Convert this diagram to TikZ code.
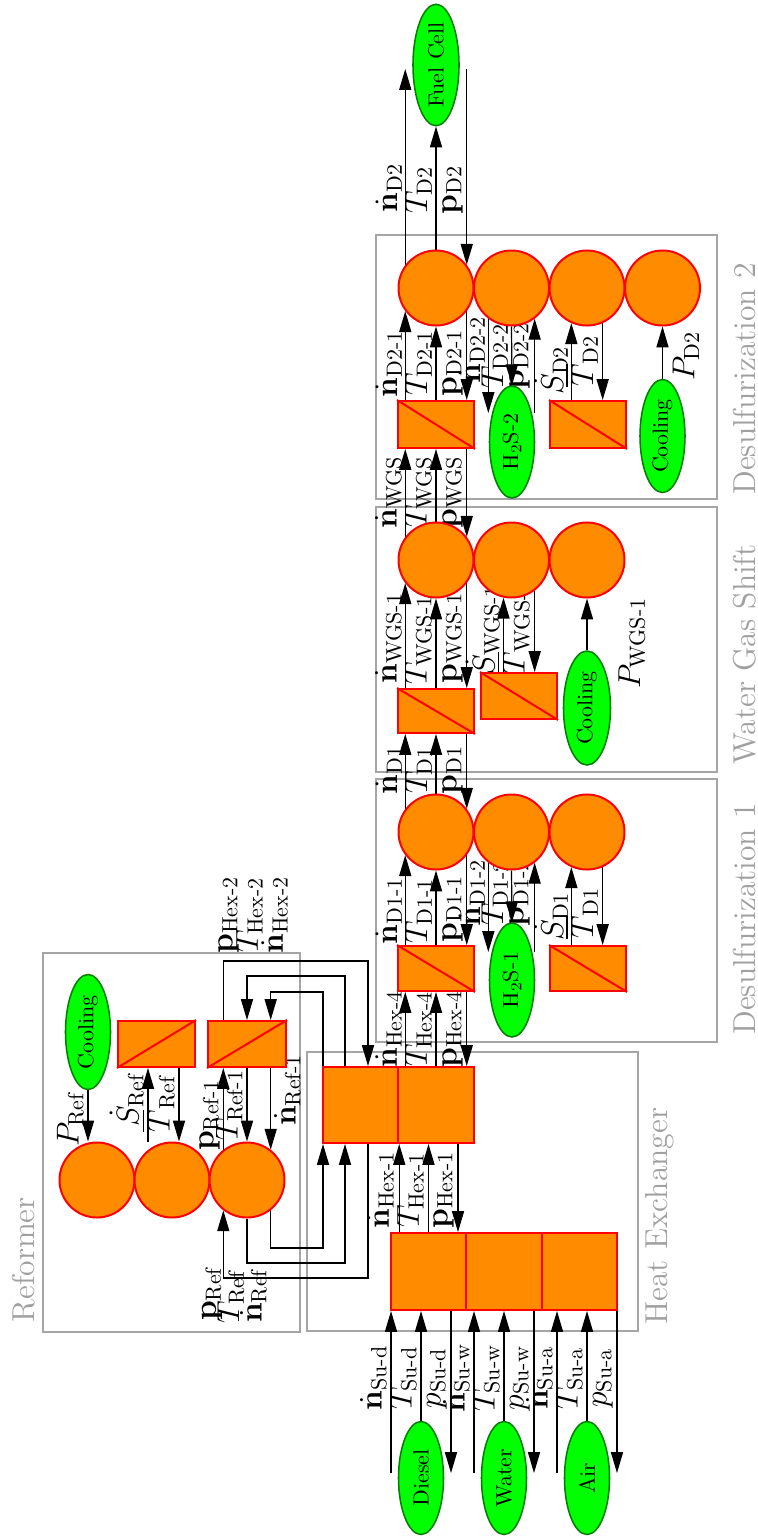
\documentclass[tikz,border=0pt]{standalone}
\usepackage{amsmath}
\usetikzlibrary{shapes.geometric,arrows.meta,calc}
\definecolor{myorange}{RGB}{255,140,0}
\definecolor{mygreen}{RGB}{0,255,0}
\definecolor{mydkgreen}{RGB}{0,128,0}
\definecolor{framegray}{RGB}{165,165,165}
\definecolor{titlegray}{RGB}{160,160,160}
\newcommand{\pxl}{0.4545pt}
\pgfdeclarelayer{back}
\pgfdeclarelayer{mid}
\pgfsetlayers{back,mid,main}
\tikzset{
  obox/.style={rectangle, draw=red, fill=myorange, line width=0.9pt, inner sep=0pt},
  circ/.style={circle, draw=red, fill=myorange, line width=0.9pt, inner sep=0pt, minimum size=75*\pxl},
  ell/.style={ellipse, draw=mydkgreen, fill=mygreen, line width=0.7pt, inner sep=0pt, rotate=90, minimum width=113*\pxl, minimum height=45*\pxl},
  diag/.style={draw=red, line width=0.9pt},
  frame/.style={draw=framegray, line width=0.6pt},
  arr/.style={-{Triangle[length=9.5pt,width=5.5pt]}, line width=0.55pt},
  lbl/.style={rotate=90, font=\Large, inner sep=1pt, anchor=south},
  lbr/.style={rotate=90, font=\Large, inner sep=1pt, anchor=north},
  ttl/.style={rotate=90, font=\Large, text=titlegray, inner sep=0pt, anchor=base west},
}
\begin{document}
\begin{tikzpicture}[x=0.4545pt, y=-0.4545pt]
\useasboundingbox (0,0) rectangle (758,1538);
\begin{pgfonlayer}{back}
\fill[white] (0,0) rectangle (758,1538);
\draw[frame] (43,953) rectangle (300,1332);
\draw[frame] (307,1052) rectangle (638,1331);
\draw[frame] (376,779) rectangle (717,1042);
\draw[frame] (376,507) rectangle (717,772);
\draw[frame] (376,235) rectangle (717,499);
\end{pgfonlayer}
\node[ttl] (tRef) at (35,1323) {Reformer};
\node[ttl] (tHex) at (667,1325) {Heat Exchanger};
\node[ttl] (tD1) at (755,1035) {Desulfurization 1};
\node[ttl] (tWGS) at (755,765) {Water Gas Shift};
\node[ttl] (tD2) at (755,495) {Desulfurization 2};

% ---------- nodes ----------
% sources
\node[ell] (diesel) at (421,1478) {Diesel};
\node[ell] (water) at (504,1478) {Water};
\node[ell] (air) at (587,1478) {Air};
% heat exchanger
\node[obox, minimum width=75.5*\pxl, minimum height=77*\pxl] (hl1) at (428.5,1271.5) {};
\node[obox, minimum width=75.5*\pxl, minimum height=77*\pxl] (hl2) at (504,1271.5) {};
\node[obox, minimum width=75.5*\pxl, minimum height=77*\pxl] (hl3) at (579.5,1271.5) {};
\node[obox, minimum width=75.5*\pxl, minimum height=76*\pxl] (hu1) at (360.5,1105) {};
\node[obox, minimum width=75.5*\pxl, minimum height=76*\pxl] (hu2) at (436,1105) {};
% reformer
\node[circ] (rc1) at (97,1180) {};
\node[circ] (rc2) at (172,1180) {};
\node[circ] (rc3) at (247,1180) {};
\node[ell, minimum width=115*\pxl] (rcool) at (88,1032) {Cooling};
\node[obox, minimum width=77*\pxl, minimum height=46*\pxl] (rb1) at (156.5,1044) {};
\node[obox, minimum width=78*\pxl, minimum height=46*\pxl] (rb2) at (247,1044) {};
\draw[diag] (rb1.south west) -- (rb1.north east);
\draw[diag] (rb2.south west) -- (rb2.north east);
% desulfurization 1
\node[circ] (d1c1) at (436,832) {};
\node[circ] (d1c2) at (511.5,832) {};
\node[circ] (d1c3) at (587,832) {};
\node[obox, minimum width=76*\pxl, minimum height=45*\pxl] (d1b1) at (436,968.5) {};
\node[obox, minimum width=76*\pxl, minimum height=45*\pxl] (d1b2) at (588,968.5) {};
\draw[diag] (d1b1.north west) -- (d1b1.south east);
\draw[diag] (d1b2.north west) -- (d1b2.south east);
\node[ell, minimum width=114*\pxl] (h2s1) at (512,980) {H$_2$S-1};
% water gas shift
\node[circ] (wc1) at (436,560) {};
\node[circ] (wc2) at (511.5,560) {};
\node[circ] (wc3) at (587,560) {};
\node[obox, minimum width=76*\pxl, minimum height=44*\pxl] (wb1) at (436,711) {};
\node[obox, minimum width=76*\pxl, minimum height=46*\pxl] (wb2) at (519,696) {};
\draw[diag] (wb1.north west) -- (wb1.south east);
\draw[diag] (wb2.north west) -- (wb2.south east);
\node[ell, minimum width=114*\pxl, minimum height=47*\pxl] (wcool) at (587,708) {Cooling};
% desulfurization 2
\node[circ] (d2c1) at (436,288) {};
\node[circ] (d2c2) at (511.5,288) {};
\node[circ] (d2c3) at (587,288) {};
\node[circ] (d2c4) at (662.5,288) {};
\node[obox, minimum width=76*\pxl, minimum height=47*\pxl] (d2b1) at (436,424.5) {};
\node[obox, minimum width=76*\pxl, minimum height=47*\pxl] (d2b2) at (588,424.5) {};
\draw[diag] (d2b1.north west) -- (d2b1.south east);
\draw[diag] (d2b2.north west) -- (d2b2.south east);
\node[ell, minimum width=112*\pxl] (h2s2) at (512,442) {H$_2$S-2};
\node[ell] (d2cool) at (662.5,436) {Cooling};
% fuel cell
\node[ell, minimum width=116*\pxl, minimum height=46*\pxl] (fc) at (436,65) {Fuel Cell};

% ---------- helper coordinates ----------
\coordinate (ysrc) at (0,1473);
\coordinate (s1) at (391,0);
\coordinate (s3) at (451,0);
\coordinate (s4) at (474,0);
\coordinate (s6) at (534,0);
\coordinate (s7) at (557,0);
\coordinate (s9) at (617,0);
\coordinate (ch3) at (458,0);
\coordinate (cr2) at (148,0);
\coordinate (cr3) at (179,0);
\coordinate (l1) at (323,0);
\coordinate (l2) at (345,0);
\coordinate (l3) at (368,0);
\coordinate (yb1) at (0,1248);
\coordinate (yb2) at (0,1263);
\coordinate (yb3) at (0,1278);
\coordinate (yt1) at (0,961);
\coordinate (yt2) at (0,976);
\coordinate (yt3) at (0,992);
\coordinate (ylow1) at (0,952);
\coordinate (ylow2) at (0,413);
\coordinate (yfc) at (0,69);

\begin{pgfonlayer}{mid}
% sources -> heat exchanger
\draw[arr] (s1 |- ysrc) -- (s1 |- hl1.south);
\draw[arr] (diesel.east) -- (diesel.east |- hl1.south);
\draw[arr] (s3 |- hl1.south) -- (s3 |- ysrc);
\draw[arr] (s4 |- ysrc) -- (s4 |- hl2.south);
\draw[arr] (water.east) -- (water.east |- hl2.south);
\draw[arr] (s6 |- hl2.south) -- (s6 |- ysrc);
\draw[arr] (s7 |- ysrc) -- (s7 |- hl3.south);
\draw[arr] (air.east) -- (air.east |- hl3.south);
\draw[arr] (s9 |- hl3.south) -- (s9 |- ysrc);
\node[lbl] (lnSd) at (389.5,1378) {$\dot{\mathbf{n}}_{\text{Su-d}}$};
\node[lbl] (lTSd) at (419.5,1378) {$T_{\text{Su-d}}$};
\node[lbl] (lpSd) at (449.5,1378) {$p_{\text{Su-d}}$};
\node[lbl] (lnSw) at (472.5,1378) {$\dot{\mathbf{n}}_{\text{Su-w}}$};
\node[lbl] (lTSw) at (502.5,1378) {$T_{\text{Su-w}}$};
\node[lbl] (lpSw) at (532.5,1378) {$p_{\text{Su-w}}$};
\node[lbl] (lnSa) at (555.5,1378) {$\dot{\mathbf{n}}_{\text{Su-a}}$};
\node[lbl] (lTSa) at (585.5,1378) {$T_{\text{Su-a}}$};
\node[lbl] (lpSa) at (615.5,1378) {$p_{\text{Su-a}}$};
% hex lower -> hex upper
\draw[arr] (hu1.south east |- hl1.north) -- (hu1.south east);
\draw[arr] (hl1.north) -- (hl1.north |- hu2.south);
\draw[arr] (ch3 |- hu2.south) -- (ch3 |- hl1.north);
\node[lbl] (lnH1) at (396.5,1190) {$\dot{\mathbf{n}}_{\text{Hex-1}}$};
\node[lbl] (lTH1) at (426.5,1190) {$T_{\text{Hex-1}}$};
\node[lbl] (lpH1) at (456.5,1190) {$\mathbf{p}_{\text{Hex-1}}$};
% reformer <-> hex (bottom loops)
\draw[arr] (rc3.308) -- (rc3.308 |- yb1) -- (l1 |- yb1) -- (l1 |- hu1.south);
\draw[arr] (rc3.south) -- (rc3.south |- yb2) -- (l2 |- yb2) -- (l2 |- hu1.south);
\draw[arr] (l3 |- hu1.south) -- (l3 |- yb3) -- (rc3.232 |- yb3) -- (rc3.232);
\node[lbl] (lpR) at (225,1294) {$\mathbf{p}_{\text{Ref}}$};
\node[lbl] (lTR) at (247,1297) {$T_{\text{Ref}}$};
\node[lbl] (lnR) at (269.5,1296) {$\dot{\mathbf{n}}_{\text{Ref}}$};
% reformer <-> hex (top loops)
\draw[arr] (rc3.128 |- rb2.north) -- (rc3.128 |- yt1) -- (l3 |- yt1) -- (l3 |- hu1.north);
\draw[arr] (l2 |- hu1.north) -- (l2 |- yt2) -- (rb2.north |- yt2) -- (rb2.north);
\draw[arr] (l1 |- hu1.north) -- (l1 |- yt3) -- (rc3.52 |- yt3) -- (rc3.52 |- rb2.north);
\node[lbl] (lpH2) at (241.5,915) {$\mathbf{p}_{\text{Hex-2}}$};
\node[lbl] (lTH2) at (265.5,915) {$T_{\text{Hex-2}}$};
\node[lbl] (lnH2) at (290.5,915) {$\dot{\mathbf{n}}_{\text{Hex-2}}$};
% reformer internal
\draw[arr] (rcool.west) -- (rcool.west |- rc1.north);
\node[lbl] (lPR) at (86.5,1120) {$P_{\text{Ref}}$};
\draw[arr] (cr2 |- rc2.north) -- (cr2 |- rb1.south);
\draw[arr] (cr3 |- rb1.south) -- (cr3 |- rc2.north);
\node[lbl] (lSR) at (146.5,1100) {$\dot{S}_{\text{Ref}}$};
\node[lbl] (lTbR) at (177.5,1104) {$\overline{T}_{\text{Ref}}$};
\draw[arr] (rc3.128) -- (rc3.128 |- rb2.south);
\draw[arr] (rb2.south) -- (rc3.north);
\draw[arr] (rc3.52 |- rb2.south) -- (rc3.52);
\node[lbl] (lpR1) at (222.5,1115) {$\mathbf{p}_{\text{Ref-1}}$};
\node[lbl] (lTR1) at (245.5,1105) {$T_{\text{Ref-1}}$};
\node[lbr] (lnR1) at (271.5,1090) {$\dot{\mathbf{n}}_{\text{Ref-1}}$};
% hex -> desulfurization 1
\draw[arr] (d1c1.217 |- hu2.north) -- (d1c1.217 |- d1b1.south);
\draw[arr] (hu2.north) -- (d1b1.south);
\draw[arr] (d1c1.323 |- d1b1.south) -- (d1c1.323 |- hu2.north);
\node[lbl] (lnH4) at (404.5,1029) {$\dot{\mathbf{n}}_{\text{Hex-4}}$};
\node[lbl] (lTH4) at (434.5,1029) {$T_{\text{Hex-4}}$};
\node[lbl] (lpH4) at (465.5,1029) {$\mathbf{p}_{\text{Hex-4}}$};
% desulfurization 1 internal
\draw[arr] (d1c1.217 |- d1b1.north) -- (d1c1.217);
\draw[arr] (d1b1.north) -- (d1c1.south);
\draw[arr] (d1c1.323) -- (d1c1.323 |- d1b1.north);
\node[lbl] (lnD11) at (404.5,911) {$\dot{\mathbf{n}}_{\text{D1-1}}$};
\node[lbl] (lTD11) at (434.5,911) {$T_{\text{D1-1}}$};
\node[lbl] (lpD11) at (465.5,909) {$\mathbf{p}_{\text{D1-1}}$};
\draw[arr] (d1c2.233) -- (d1c2.233 |- ylow1);
\draw[arr] (d1c2.south) -- (h2s1.east);
\draw[arr] (d1c2.307 |- ylow1) -- (d1c2.307);
\node[lbl] (lnD12) at (487.5,893) {$\dot{\mathbf{n}}_{\text{D1-2}}$};
\node[lbl] (lTD12) at (510.5,893) {$T_{\text{D1-2}}$};
\node[lbl] (lpD12) at (532.5,893) {$\mathbf{p}_{\text{D1-2}}$};
\draw[arr] (d1c3.246 |- d1b2.north) -- (d1c3.246);
\draw[arr] (d1c3.294) -- (d1c3.294 |- d1b2.north);
\node[lbl] (lSD1) at (570.5,916) {$\dot{S}_{\text{D1}}$};
\node[lbl] (lTbD1) at (600.5,913) {$\overline{T}_{\text{D1}}$};
% desulfurization 1 -> water gas shift
\draw[arr] (d1c1.143) -- (d1c1.143 |- wb1.south);
\draw[arr] (d1c1.north) -- (wb1.south);
\draw[arr] (d1c1.37 |- wb1.south) -- (d1c1.37);
\node[lbl] (lnD1) at (404.5,770) {$\dot{\mathbf{n}}_{\text{D1}}$};
\node[lbl] (lTD1) at (434.5,770) {$T_{\text{D1}}$};
\node[lbl] (lpD1) at (465.5,770) {$\mathbf{p}_{\text{D1}}$};
% water gas shift internal
\draw[arr] (wc1.217 |- wb1.north) -- (wc1.217);
\draw[arr] (wb1.north) -- (wc1.south);
\draw[arr] (wc1.323) -- (wc1.323 |- wb1.north);
\node[lbl] (lnW1) at (404.5,638) {$\dot{\mathbf{n}}_{\text{WGS-1}}$};
\node[lbl] (lTW1) at (434.5,640) {$T_{\text{WGS-1}}$};
\node[lbl] (lpW1) at (465.5,638) {$\mathbf{p}_{\text{WGS-1}}$};
\draw[arr] (wc2.258 |- wb2.north) -- (wc2.258);
\draw[arr] (wc2.307) -- (wc2.307 |- wb2.north);
\node[lbl] (lSW1) at (502.5,630) {$\dot{S}_{\text{WGS-1}}$};
\node[lbl] (lTbW1) at (532.5,628) {$\overline{T}_{\text{WGS-1}}$};
\draw[arr] (wcool.east) -- (wc3.south);
\node[lbl] (lPW1) at (648,643) {$P_{\text{WGS-1}}$};
% water gas shift -> desulfurization 2
\draw[arr] (wc1.143) -- (wc1.143 |- d2b1.south);
\draw[arr] (wc1.north) -- (d2b1.south);
\draw[arr] (wc1.37 |- d2b1.south) -- (wc1.37);
\node[lbl] (lnW) at (404.5,492) {$\dot{\mathbf{n}}_{\text{WGS}}$};
\node[lbl] (lTW) at (434.5,492) {$T_{\text{WGS}}$};
\node[lbl] (lpW) at (465.5,492) {$\mathbf{p}_{\text{WGS}}$};
% desulfurization 2 internal
\draw[arr] (d2c1.217 |- d2b1.north) -- (d2c1.217);
\draw[arr] (d2b1.north) -- (d2c1.south);
\draw[arr] (d2c1.323) -- (d2c1.323 |- d2b1.north);
\node[lbl] (lnD21) at (404.5,364) {$\dot{\mathbf{n}}_{\text{D2-1}}$};
\node[lbl] (lTD21) at (434.5,363) {$T_{\text{D2-1}}$};
\node[lbl] (lpD21) at (465.5,363) {$\mathbf{p}_{\text{D2-1}}$};
\draw[arr] (d2c2.233) -- (d2c2.233 |- ylow2);
\draw[arr] (d2c2.south) -- (h2s2.east);
\draw[arr] (d2c2.307 |- ylow2) -- (d2c2.307);
\node[lbl] (lnD22) at (487.5,350) {$\dot{\mathbf{n}}_{\text{D2-2}}$};
\node[lbl] (lTD22) at (510.5,356) {$T_{\text{D2-2}}$};
\node[lbl] (lpD22) at (532.5,356) {$\mathbf{p}_{\text{D2-2}}$};
\draw[arr] (d2c3.246 |- d2b2.north) -- (d2c3.246);
\draw[arr] (d2c3.294) -- (d2c3.294 |- d2b2.north);
\node[lbl] (lSD2) at (570.5,370) {$\dot{S}_{\text{D2}}$};
\node[lbl] (lTbD2) at (600.5,361) {$\overline{T}_{\text{D2}}$};
\draw[arr] (d2cool.east) -- (d2c4.south);
\node[lbr] (lPD2) at (670,356) {$P_{\text{D2}}$};
% desulfurization 2 -> fuel cell
\draw[arr] (d2c1.143) -- (d2c1.143 |- yfc);
\draw[arr] (d2c1.north) -- (fc.west);
\draw[arr] (d2c1.37 |- yfc) -- (d2c1.37);
\node[lbl] (lnD2) at (404.5,188) {$\dot{\mathbf{n}}_{\text{D2}}$};
\node[lbl] (lTD2) at (434.5,190) {$T_{\text{D2}}$};
\node[lbl] (lpD2) at (465.5,190) {$\mathbf{p}_{\text{D2}}$};
\end{pgfonlayer}
\end{tikzpicture}
\end{document}
